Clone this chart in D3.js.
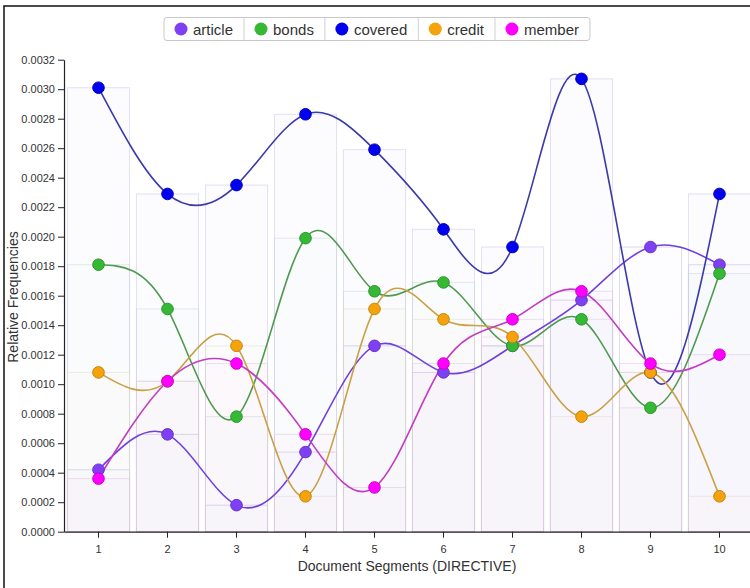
<!DOCTYPE html>
<html><head><meta charset="utf-8">
<script src="https://cdn.jsdelivr.net/npm/d3@7/dist/d3.min.js"></script>
<style>
body{margin:0;background:#fff;}
text{font-family:"Liberation Sans",Arial,sans-serif;}
</style></head>
<body><svg id="chart" width="750" height="588"></svg>
<script>
const segments = [1,2,3,4,5,6,7,8,9,10];
const seriesNames = ["article","bonds","covered","credit","member"];
const article = [0.00042,0.00066,0.00018,0.00054,0.00126,0.00108,0.00126,0.00157,0.00193,0.00181];
const bonds   = [0.00181,0.00151,0.00078,0.00199,0.00163,0.00169,0.00126,0.00144,0.00084,0.00175];
const covered = [0.00301,0.00229,0.00235,0.00283,0.00259,0.00205,0.00193,0.00307,0.00108,0.00229];
const credit  = [0.00108,0.00102,0.00126,0.00024,0.00151,0.00144,0.00132,0.00078,0.00108,0.00024];
const member  = [0.00036,0.00102,0.00114,0.00066,0.00030,0.00114,0.00144,0.00163,0.00114,0.00120];
const yTicks = [0,0.0002,0.0004,0.0006,0.0008,0.001,0.0012,0.0014,0.0016,0.0018,0.002,0.0022,0.0024,0.0026,0.0028,0.003,0.0032];
const dotColors  = ["#7f3ff5","#35b935","#0000ee","#f5a30c","#ff00ff"];
const lineColors = ["#7040dc","#4f9a4f","#3a3aa8","#c9a043","#c23cc2"];
const barStrokes = ["#c4bce6","#cfd8e0","#c8c8ec","#e4dcd0","#dcc4e4"];
const values = [article,bonds,covered,credit,member];

const svg = d3.select("#chart");
const x = d3.scaleBand().domain(segments).range([64,754]).paddingInner(0.1).paddingOuter(0.05);
const y = d3.scaleLinear().domain([0,0.0032]).range([531.7,59.7]);

// frame
svg.append("rect").attr("x",4).attr("y",6).attr("width",800).attr("height",700)
  .attr("fill","none").attr("stroke","#111").attr("stroke-width",1.5);

// bars
values.forEach((vals,si)=>{
  svg.append("g").selectAll("rect").data(vals).join("rect")
    .attr("x",(d,i)=>x(segments[i]))
    .attr("y",d=>y(d))
    .attr("width",x.bandwidth())
    .attr("height",d=>y(0)-y(d))
    .attr("fill",dotColors[si]).attr("fill-opacity",0.012)
    .attr("stroke",barStrokes[si]).attr("stroke-opacity",0.55).attr("stroke-width",1);
});

// axes
const yAxis = svg.append("g").attr("transform","translate(64,0)")
  .call(d3.axisLeft(y).tickValues(yTicks).tickFormat(d3.format(".4f")).tickSize(6).tickSizeOuter(0));
const xAxis = svg.append("g").attr("transform","translate(0,531.7)")
  .call(d3.axisBottom(x).tickSize(6).tickSizeOuter(0).tickPadding(8));
[yAxis,xAxis].forEach(a=>{
  a.selectAll("text").attr("fill","#333").style("font-size","11px");
  a.selectAll("line").attr("stroke","#222");
  a.select(".domain").attr("stroke","#222").attr("stroke-width",1.2);
});

svg.append("text").attr("transform","translate(18,297) rotate(-90)")
  .attr("text-anchor","middle").attr("fill","#333").style("font-size","14px").text("Relative Frequencies");
svg.append("text").attr("x",407).attr("y",571)
  .attr("text-anchor","middle").attr("fill","#333").style("font-size","14px").text("Document Segments (DIRECTIVE)");

// lines
const line = d3.line().x((d,i)=>x(segments[i])+x.bandwidth()/2).y(d=>y(d)).curve(d3.curveNatural);
values.forEach((vals,si)=>{
  svg.append("path").datum(vals).attr("d",line).attr("fill","none")
    .attr("stroke",lineColors[si]).attr("stroke-width",1.6);
});
values.forEach((vals,si)=>{
  svg.append("g").selectAll("circle").data(vals).join("circle")
    .attr("cx",(d,i)=>x(segments[i])+x.bandwidth()/2)
    .attr("cy",d=>y(d)).attr("r",5.8)
    .attr("fill",dotColors[si]).attr("stroke",d3.color(dotColors[si]).darker(0.6)).attr("stroke-width",1);
});

// legend
const lg = svg.append("g");
const lgBox = lg.append("rect").attr("y",17.5).attr("height",23).attr("rx",3)
  .attr("fill","#fff").attr("stroke","#c8c8c8");
let cx = 164;
const divs = [];
seriesNames.forEach((n,i)=>{
  const g = lg.append("g");
  g.append("circle").attr("cx",cx+17).attr("cy",29).attr("r",6.5).attr("fill",dotColors[i]);
  const t = g.append("text").attr("x",cx+29).attr("y",34.5).attr("fill","#333").style("font-size","15px").text(n);
  const w = t.node().getComputedTextLength();
  cx += 29 + w + 11;
  if(i<seriesNames.length-1) divs.push(cx);
});
lgBox.attr("x",164).attr("width",cx-164);
lg.selectAll("line.div").data(divs).join("line").attr("class","div")
  .attr("x1",d=>d).attr("x2",d=>d).attr("y1",18).attr("y2",40).attr("stroke","#d0d0d0");
</script></body></html>
